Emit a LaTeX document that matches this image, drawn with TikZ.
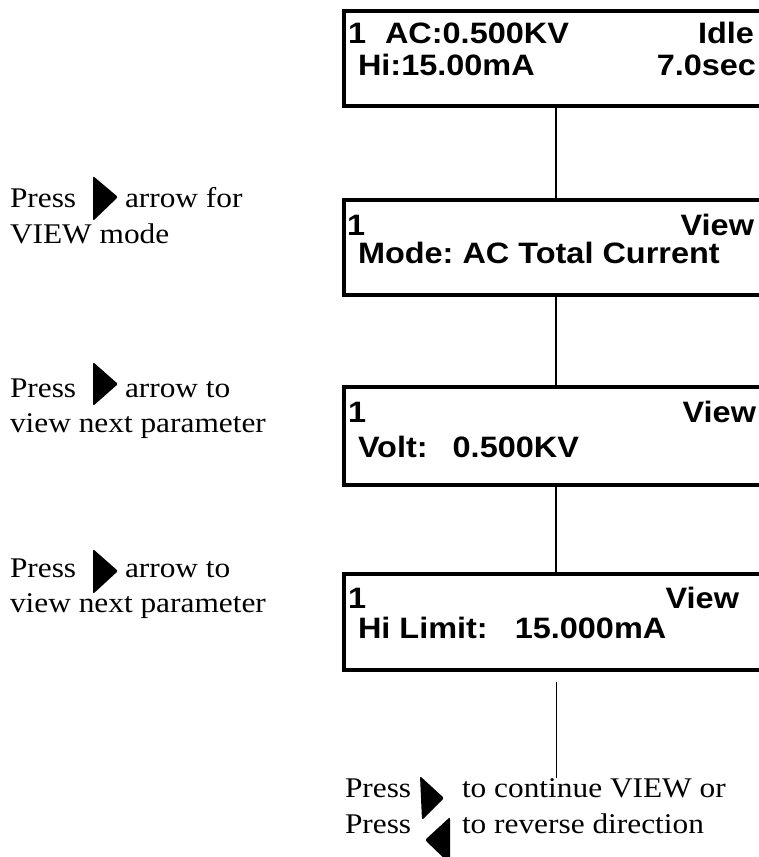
\documentclass[tikz,border=0pt]{standalone}
\usepackage{fontspec}
\setmainfont{Liberation Serif}[FakeStretch=1.1]
\newfontfamily\arialfont{Liberation Sans}[FakeStretch=1.1]
\frenchspacing
\begin{document}
\frenchspacing
\begin{tikzpicture}[x=1pt,y=-1pt,
  lcd/.style={draw,line width=4pt,rectangle,minimum width=460pt,anchor=north west,inner sep=0pt,outer sep=0pt},
  lcdtxt/.style={font=\frenchspacing\arialfont\bfseries\fontsize{29.5}{35}\selectfont,inner sep=0pt,outer sep=0pt},
  lw/.style={lcdtxt,anchor=base west},
  le/.style={lcdtxt,anchor=base east},
  note/.style={font=\frenchspacing\fontsize{28.5}{34}\selectfont,inner sep=0pt,outer sep=0pt,anchor=base west},
  conn/.style={line width=2pt},
  lastconn/.style={line width=1pt},
  tip/.style={fill=black,rounded corners=2pt}]
\useasboundingbox (0,0) rectangle (759,857);
\clip (0,0) rectangle (759,857);

% LCD boxes
\node[lcd,minimum height=95pt] (b1) at (344,11) {};
\node[lcd,minimum height=95pt] (b2) at (344,200) {};
\node[lcd,minimum height=98pt] (b3) at (344,387) {};
\node[lcd,minimum height=96pt] (b4) at (344,574) {};

% connectors
\coordinate (cx) at (556,0);
\draw[conn] (b1.south west -| cx) -- (b2.north west -| cx);
\draw[conn] (b2.south west -| cx) -- (b3.north west -| cx);
\draw[conn] (b3.south west -| cx) -- (b4.north west -| cx);
\coordinate (e1) at (556,682);
\coordinate (e2) at (556,778);
\draw[lastconn] (e1) -- (e2);

% box texts
\node[lw] (t1a) at (348,43) {1\hspace{19pt}AC:0.500KV};
\node[le] (t1b) at (754,43) {Idle};
\node[lw] (t1c) at (358,75) {Hi:15.00mA};
\node[le] (t1d) at (756,75) {7.0sec};

\node[lw] (t2a) at (347,235) {1};
\node[le] (t2b) at (754,235) {View};
\node[lw] (t2c) at (358,263) {Mode: AC Total Current};

\node[lw] (t3a) at (348,422) {1};
\node[le] (t3b) at (756,422) {View};
\node[lw] (t3c) at (358,457) {Volt:\hspace{25pt}0.500KV};

\node[lw] (t4a) at (348,608) {1};
\node[le] (t4b) at (739,608) {View};
\node[lw] (t4c) at (358,638) {Hi Limit:\hspace{27pt}15.000mA};

% side notes
\node[note] (n1a) at (10,207) {Press};
\node[note] (n1b) at (125,207) {arrow for};
\node[note] (n1c) at (10,243) {VIEW mode};
\fill[tip] (93,176) -- (118,197) -- (93,221) -- cycle;

\node[note] (n2a) at (10,397) {Press};
\node[note] (n2b) at (125,397) {arrow to};
\node[note] (n2c) at (10,432) {view next parameter};
\fill[tip] (93,362) -- (118,384) -- (93,406) -- cycle;

\node[note] (n3a) at (10,577) {Press};
\node[note] (n3b) at (125,577) {arrow to};
\node[note] (n3c) at (10,612) {view next parameter};
\fill[tip] (93,549) -- (118,571) -- (93,594) -- cycle;

\node[note] (n4a) at (345,797) {Press};
\node[note] (n4b) at (462,797) {to continue VIEW or};
\node[note] (n4c) at (345,833) {Press};
\node[note] (n4d) at (462,833) {to reverse direction};
\fill[tip] (420,776) -- (444,798) -- (422,820) -- cycle;
\fill[tip] (450,817) -- (425,840) -- (450,864) -- cycle;
\end{tikzpicture}
\end{document}
